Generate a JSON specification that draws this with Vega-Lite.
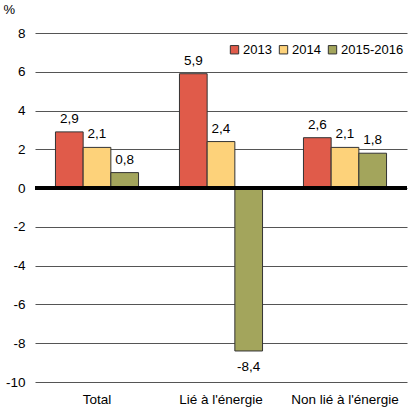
{
  "$schema": "https://vega.github.io/schema/vega-lite/v6.json",
  "width": 372,
  "height": 349,
  "autosize": {"type": "none"},
  "padding": {"left": 35, "top": 33, "right": 9, "bottom": 36},
  "background": "white",
  "config": {
    "font": "Liberation Sans",
    "view": {"stroke": null},
    "locale": {
      "number": {"decimal": ",", "thousands": " ", "grouping": [3], "currency": ["", " $"], "minus": "-"}
    }
  },
  "data": {
    "values": [
      {"group": "Total", "period": "2013", "value": 2.9},
      {"group": "Total", "period": "2014", "value": 2.1},
      {"group": "Total", "period": "2015-2016", "value": 0.8},
      {"group": "Lié à l'énergie", "period": "2013", "value": 5.9},
      {"group": "Lié à l'énergie", "period": "2014", "value": 2.4},
      {"group": "Lié à l'énergie", "period": "2015-2016", "value": -8.4},
      {"group": "Non lié à l'énergie", "period": "2013", "value": 2.6},
      {"group": "Non lié à l'énergie", "period": "2014", "value": 2.1},
      {"group": "Non lié à l'énergie", "period": "2015-2016", "value": 1.8}
    ]
  },
  "encoding": {
    "x": {
      "field": "group", "type": "nominal", "sort": null,
      "scale": {"paddingInner": 0.33, "paddingOuter": 0.165},
      "axis": {"title": null, "labelAngle": 0, "domain": false, "ticks": false,
               "labelFontSize": 13.5, "labelColor": "#000", "labelPadding": 10}
    },
    "xOffset": {"field": "period", "type": "nominal", "sort": null, "scale": {"paddingInner": 0, "paddingOuter": 0}},
    "y": {
      "field": "value", "type": "quantitative",
      "scale": {"domain": [-10, 8], "nice": false},
      "axis": {"values": [-10, -8, -6, -4, -2, 0, 2, 4, 6, 8], "format": "d",
               "domain": false, "ticks": false, "labelFontSize": 13.5, "labelColor": "#000",
               "labelPadding": 10, "gridColor": "#555", "gridWidth": 1, "gridOpacity": 1,
               "title": "%", "titleAngle": 0, "titleX": -32, "titleY": -30,
               "titleAlign": "left", "titleBaseline": "top", "titleFontWeight": "normal",
               "titleFontSize": 13, "titleColor": "#000"}
    }
  },
  "layer": [
    {
      "mark": {"type": "bar", "stroke": "#333", "strokeWidth": 1},
      "encoding": {
        "color": {
          "field": "period", "type": "nominal", "sort": null,
          "scale": {"range": ["#E05B4A", "#FDD27A", "#A3A55C"]},
          "legend": {"title": null, "orient": "none", "direction": "horizontal",
                     "legendX": 193, "legendY": 10, "symbolType": "square",
                     "symbolSize": 70, "symbolStrokeColor": "#333", "symbolStrokeWidth": 1,
                     "symbolOpacity": 1, "labelFontSize": 13, "labelColor": "#000",
                     "labelOffset": 2, "columnPadding": 5}
        }
      }
    },
    {
      "transform": [{"filter": "datum.value >= 0"}],
      "mark": {"type": "text", "baseline": "bottom", "dy": -6, "fontSize": 13.5, "color": "#000"},
      "encoding": {"text": {"field": "value", "type": "quantitative", "format": ".1f"}}
    },
    {
      "transform": [{"filter": "datum.value < 0"}],
      "mark": {"type": "text", "baseline": "top", "dy": 9, "fontSize": 13.5, "color": "#000"},
      "encoding": {"text": {"field": "value", "type": "quantitative", "format": ".1f"}}
    },
    {
      "mark": {"type": "rule", "color": "#000", "strokeWidth": 3},
      "encoding": {"y": {"datum": 0}, "x": null, "xOffset": null}
    }
  ]
}
